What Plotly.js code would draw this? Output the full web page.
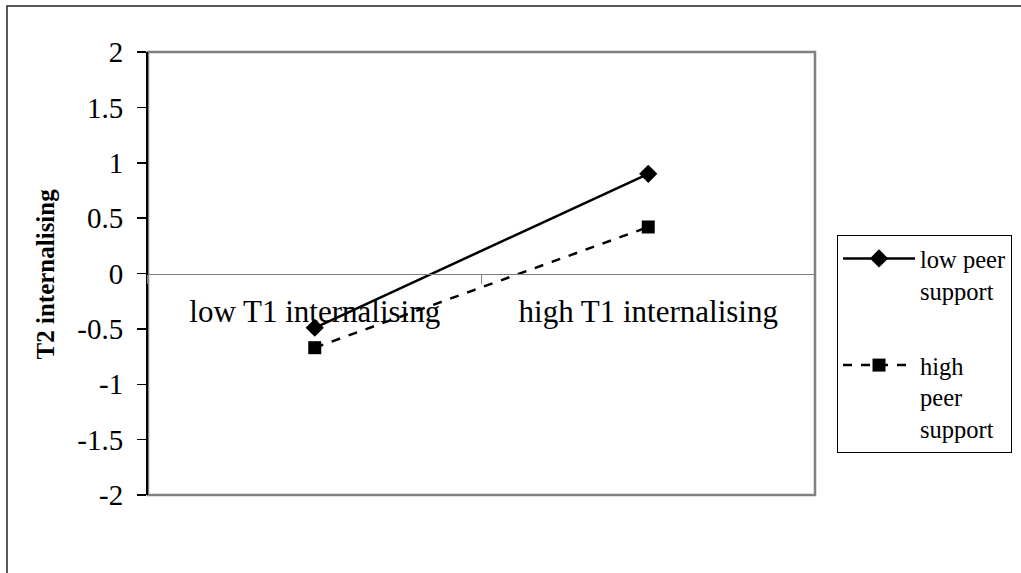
<!DOCTYPE html>
<html>
<head>
<meta charset="utf-8">
<script src="https://cdn.plot.ly/plotly-3.0.1.min.js"></script>
<style>html,body{margin:0;padding:0;background:#fff;}#chart{width:1021px;height:573px;}</style>
</head>
<body>
<div id="chart"></div>
<script>
var categories = ["low T1 internalising", "high T1 internalising"];
var seriesNames = ["low peer<br>support", "high<br>peer<br>support"];
var lowPeerSupport = [-0.49, 0.90];
var highPeerSupport = [-0.67, 0.42];
var yTickVals = [-2, -1.5, -1, -0.5, 0, 0.5, 1, 1.5, 2];
var yTickText = ["-2", "-1.5", "-1", "-0.5", "0", "0.5", "1", "1.5", "2"];
var yTitle = "T2 internalising";

var serif = "Liberation Serif";

var traces = [
  {
    x: categories, y: lowPeerSupport, name: seriesNames[0], legendgroup: "g1", type: "scatter", mode: "lines+markers",
    line: {color: "#000", width: 2.5},
    marker: {symbol: "diamond", size: 14, color: "#000"}
  },
  {
    x: categories, y: highPeerSupport, name: seriesNames[1], legendgroup: "g2", type: "scatter", mode: "lines+markers",
    line: {color: "#000", width: 2.5, dash: "dash"},
    marker: {symbol: "square", size: 13, color: "#000"}
  }
];

var layout = {
  width: 1021, height: 573,
  margin: {l: 148, r: 206, t: 52, b: 78, pad: 0, autoexpand: false},
  paper_bgcolor: "#fff", plot_bgcolor: "#fff",
  font: {family: serif, color: "#000", size: 26},
  showlegend: true,
  legend: {
    x: 1.033, y: 0.587, xanchor: "left", yanchor: "top",
    bordercolor: "#000", borderwidth: 1, bgcolor: "#fff",
    font: {family: serif, size: 24.5, color: "#000"},
    valign: "top", itemwidth: 72, tracegroupgap: 40
  },
  xaxis: {
    type: "category",
    range: [-0.5, 1.5],
    anchor: "free", position: 0.5,
    showline: true, linecolor: "#808080", linewidth: 1.5,
    ticks: "outside", tickson: "boundaries", ticklen: 9, tickcolor: "#808080", tickwidth: 1.5,
    ticklabelstandoff: 10,
    showgrid: false, zeroline: false,
    tickfont: {family: serif, size: 31, color: "#000"},
    fixedrange: true
  },
  yaxis: {
    range: [-2, 2],
    tickvals: yTickVals, ticktext: yTickText,
    showline: true, linecolor: "#000", linewidth: 2,
    ticks: "outside", ticklen: 9, tickcolor: "#000", tickwidth: 1.5,
    ticklabelstandoff: 8,
    showgrid: false, zeroline: false,
    tickfont: {family: serif, size: 29, color: "#000"},
    fixedrange: true
  },
  annotations: [
    {text: "<b>" + yTitle + "</b>", xref: "paper", yref: "paper", x: -0.153, y: 0.5,
     xanchor: "center", yanchor: "middle", textangle: -90, showarrow: false,
     font: {family: serif, size: 25, color: "#000"}}
  ],
  shapes: [
    {type: "rect", xref: "paper", yref: "paper", x0: 0, x1: 1, y0: 0, y1: 1,
     line: {color: "#808080", width: 2.5}, layer: "below"},
    {type: "rect", xref: "paper", yref: "paper", x0: -0.2114, x1: 1.32, y0: -0.2, y1: 1.1038,
     line: {color: "#222", width: 1.5}, layer: "below"}
  ]
};

Plotly.newPlot("chart", traces, layout, {displayModeBar: false, staticPlot: true});
</script>
</body>
</html>
